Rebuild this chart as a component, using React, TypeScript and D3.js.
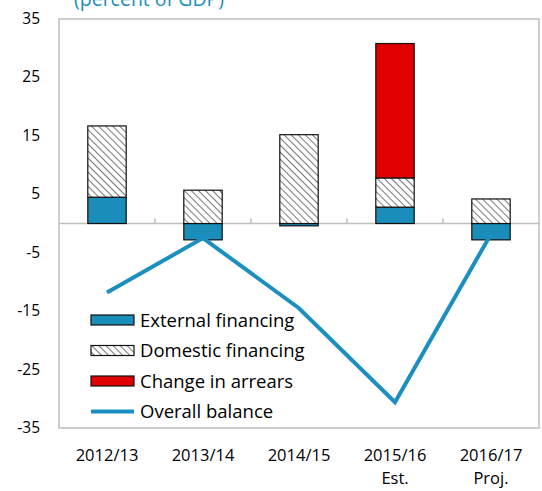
import React from "react";
import * as d3 from "d3";

const categories = ["2012/13", "2013/14", "2014/15", "2015/16", "2016/17"];
const subLabels = ["", "", "", "Est.", "Proj."];
const external = [4.5, -2.8, -0.4, 2.8, -2.8];
const domestic = [12.2, 5.7, 15.2, 5.0, 4.2];
const arrears = [0, 0, 0, 23.0, 0];
const overall = [-11.8, -2.5, -14.5, -30.6, -1.8];
const yTicks = [35, 25, 15, 5, -5, -15, -25, -35];
const legendItems = ["External financing", "Domestic financing", "Change in arrears", "Overall balance"];

const W = 542, H = 491;
const M = { left: 59, right: 539, top: 19, bottom: 428 };
const BLUE = "#1a8dbb";
const LINE = "#1c8fc1";
const RED = "#e00000";
const FONT = "'Open Sans', 'Noto Sans', sans-serif";

export default function App() {
  const x = d3.scaleBand().domain(categories).range([M.left, M.right]).paddingInner(0.6).paddingOuter(0.3);
  const xBand = d3.scaleBand().domain(categories).range([M.left, M.right]);
  const y = d3.scaleLinear().domain([-35, 35]).range([M.bottom, M.top]);

  const bars: any[] = [];
  categories.forEach((c, i) => {
    const bx = x(c)!;
    const bw = x.bandwidth();
    const e = external[i];
    bars.push(
      <rect key={"e" + i} x={bx} y={y(Math.max(0, e))} width={bw} height={Math.abs(y(e) - y(0))}
        fill={BLUE} stroke="#111" strokeWidth={1.2} />
    );
    const base = Math.max(0, e);
    const dTop = base + domestic[i];
    bars.push(
      <rect key={"d" + i} x={bx} y={y(dTop)} width={bw} height={y(base) - y(dTop)}
        fill="url(#hatch)" stroke="#111" strokeWidth={1.2} />
    );
    if (arrears[i] > 0) {
      const aTop = dTop + arrears[i];
      bars.push(
        <rect key={"a" + i} x={bx} y={y(aTop)} width={bw} height={y(dTop) - y(aTop)}
          fill={RED} stroke="#111" strokeWidth={1.2} />
      );
    }
  });

  const line = d3.line<number>().x((_, i) => xBand(categories[i])! + xBand.bandwidth() / 2).y((d) => y(d));

  const lx = 91, ly0 = 320, lstep = 30.5;

  return (
    <svg width={W} height={H} style={{ display: "block", position: "absolute", left: 0, top: 0 }} fontFamily={FONT}>
      <defs>
        <pattern id="hatch" patternUnits="userSpaceOnUse" width="5" height="5" patternTransform="rotate(-45)">
          <rect width="5" height="5" fill="#fff" />
          <line x1="0" y1="0" x2="0" y2="5" stroke="#666" strokeWidth="1.8" />
        </pattern>
      </defs>
      <rect x={0} y={0} width={W} height={H} fill="#fff" />
      <text x={74} y={6} fontSize={19.5} fill={BLUE}>(percent of GDP)</text>
      <rect x={M.left} y={M.top} width={M.right - M.left} height={M.bottom - M.top} fill="none" stroke="#bfbfbf" strokeWidth={1.5} />
      {yTicks.map((t) => (
        <text key={t} x={40} y={y(t) + 5} fontSize={15.5} textAnchor="end" fill="#000">{t}</text>
      ))}
      <line x1={M.left} x2={M.right} y1={y(0)} y2={y(0)} stroke="#bfbfbf" strokeWidth={1.5} />
      {categories.slice(1).map((c) => (
        <line key={c} x1={xBand(c)!} x2={xBand(c)!} y1={y(0)} y2={y(0) - 5} stroke="#bfbfbf" strokeWidth={1.5} />
      ))}
      {bars}
      <path d={line(overall)!} fill="none" stroke={LINE} strokeWidth={4} strokeLinejoin="miter" />
      {categories.map((c, i) => (
        <g key={c}>
          <text x={xBand(c)! + xBand.bandwidth() / 2} y={461} fontSize={16.5} textAnchor="middle">{c}</text>
          {subLabels[i] && (
            <text x={xBand(c)! + xBand.bandwidth() / 2} y={484} fontSize={16.5} textAnchor="middle">{subLabels[i]}</text>
          )}
        </g>
      ))}
      {legendItems.map((t, i) => {
        const cy = ly0 + i * lstep;
        return (
          <g key={t}>
            {i === 3 ? (
              <line x1={lx} x2={lx + 43} y1={cy} y2={cy} stroke={LINE} strokeWidth={4} />
            ) : (
              <rect x={lx} y={cy - 5} width={43} height={10}
                fill={i === 0 ? BLUE : i === 1 ? "url(#hatch)" : RED} stroke="#111" strokeWidth={1.2} />
            )}
            <text x={lx + 49} y={cy + 6.5} fontSize={18.5}>{t}</text>
          </g>
        );
      })}
    </svg>
  );
}
